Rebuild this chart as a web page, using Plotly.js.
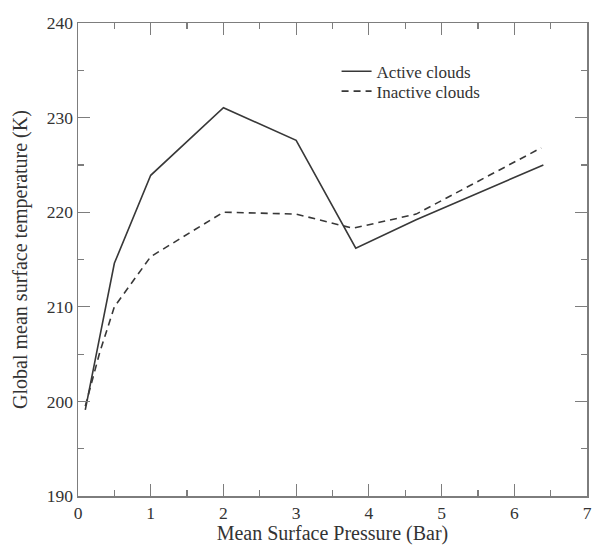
<!DOCTYPE html>
<html>
<head>
<meta charset="utf-8">
<script src="https://cdn.plot.ly/plotly-3.0.1.min.js"></script>
<style>
  html, body { margin: 0; padding: 0; background: #fff; }
  #chart { width: 593px; height: 545px; }
</style>
</head>
<body>
<div id="chart"></div>
<script>
// Mean surface pressure (bar) vs. global mean surface temperature (K)
const activePressure = [0.1, 0.35, 0.5, 1.0, 2.0, 3.0, 3.82, 4.65, 6.4];
const activeTemp     = [199.1, 209.0, 214.6, 223.9, 231.05, 227.6, 216.2, 219.2, 225.0];

const inactivePressure = [0.1, 0.3, 0.5, 0.8, 1.0, 2.0, 3.0, 3.78, 4.65, 6.37];
const inactiveTemp     = [199.5, 205.2, 210.0, 213.2, 215.3, 220.0, 219.8, 218.3, 219.8, 226.8];

const seriesNames = ['Active clouds', 'Inactive clouds'];

const lineColor = '#383838';
const axisColor = '#7d7d7d';
const serif = 'Liberation Serif, Times New Roman, serif';

const traces = [
  {
    x: activePressure, y: activeTemp, name: seriesNames[0], legend: 'legend',
    mode: 'lines', line: { color: lineColor, width: 1.6 }
  },
  {
    x: inactivePressure, y: inactiveTemp, name: seriesNames[1], legend: 'legend2',
    mode: 'lines', line: { color: lineColor, width: 1.6, dash: '7px,5px' }
  }
];

const axisCommon = {
  showgrid: false, zeroline: false,
  showline: true, linecolor: axisColor, linewidth: 1.5,
  mirror: 'ticks', ticks: 'inside', ticklen: 12, tickwidth: 1.2, tickcolor: axisColor,
  tickfont: { family: serif, size: 17.5, color: '#333' }
};

// one legend box per entry so the two rows sit close together
const legendCommon = {
  xanchor: 'left', yanchor: 'top',
  bgcolor: 'rgba(0,0,0,0)', borderwidth: 0,
  font: { family: serif, size: 17, color: '#333' }
};

const layout = {
  width: 593, height: 545,
  margin: { l: 78, r: 6, t: 23, b: 49 },
  paper_bgcolor: '#fff', plot_bgcolor: '#fff',
  showlegend: true,
  legend:  Object.assign({}, legendCommon, { x: 0.508, y: 0.935 }),
  legend2: Object.assign({}, legendCommon, { x: 0.508, y: 0.893 }),
  xaxis: Object.assign({}, axisCommon, {
    range: [0, 7], dtick: 1, tick0: 0,
    minor: { ticks: 'inside', dtick: 0.5, ticklen: 6, tickcolor: axisColor, tickwidth: 1.2 },
    title: { text: 'Mean Surface Pressure (Bar)', standoff: 3,
             font: { family: serif, size: 20, color: '#333' } }
  }),
  yaxis: Object.assign({}, axisCommon, {
    range: [190, 240], dtick: 10, tick0: 190,
    minor: { ticks: 'inside', dtick: 5, ticklen: 6, tickcolor: axisColor, tickwidth: 1.2 },
    title: { text: 'Global mean surface temperature (K)', standoff: 14,
             font: { family: serif, size: 20, color: '#333' } }
  })
};

Plotly.newPlot('chart', traces, layout, { staticPlot: true, displayModeBar: false });
</script>
</body>
</html>
